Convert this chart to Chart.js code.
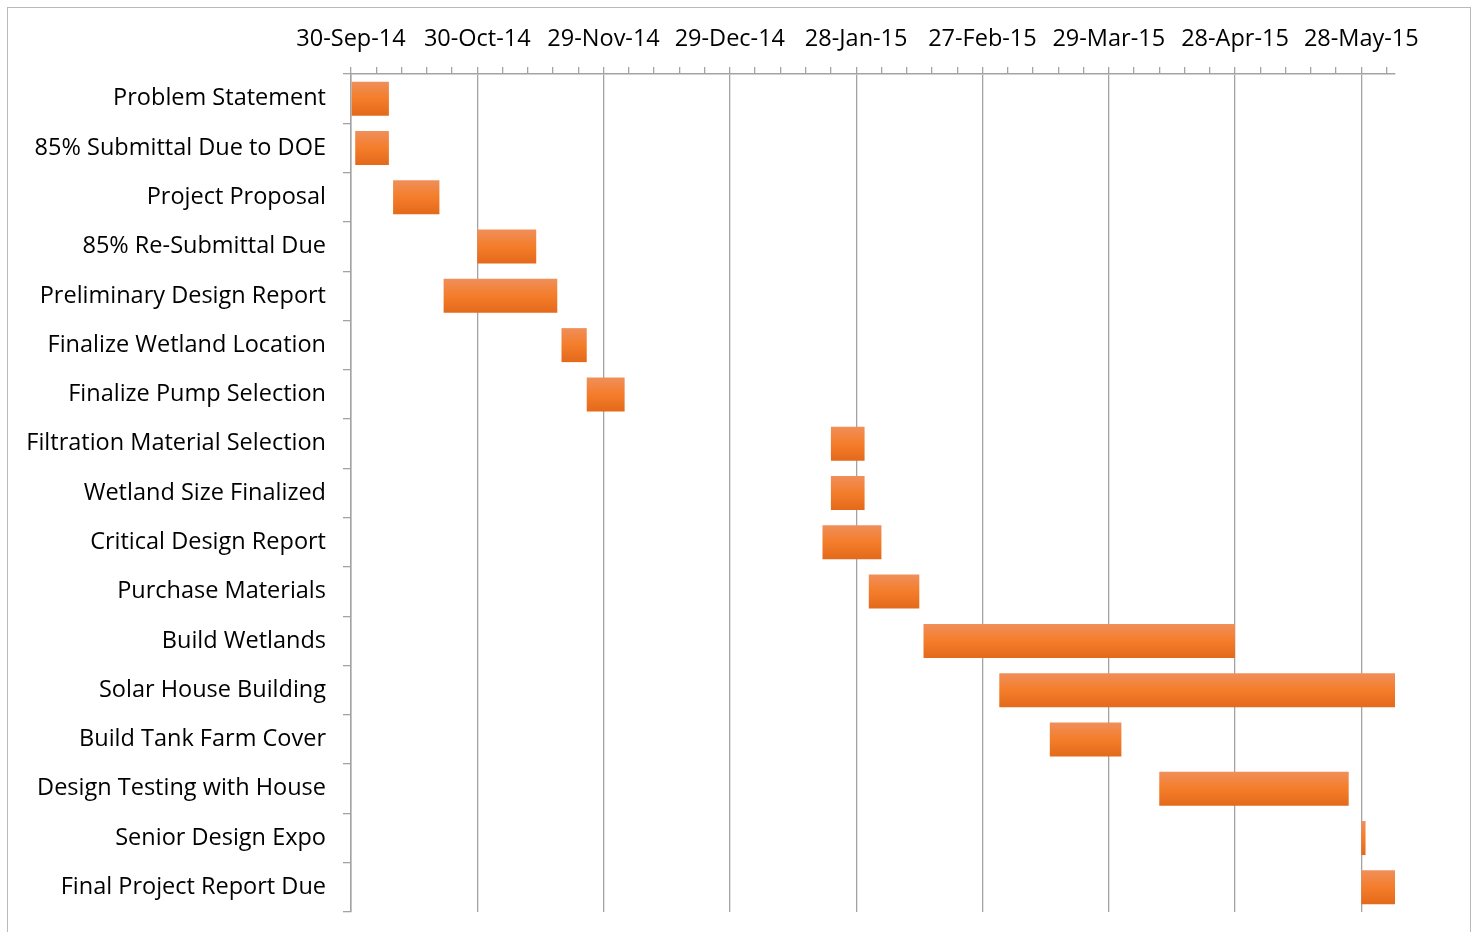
<!DOCTYPE html>
<html>
<head>
<meta charset="utf-8">
<script src="https://cdn.jsdelivr.net/npm/chart.js@4.4.0/dist/chart.umd.min.js"></script>
<style>
  html, body { margin: 0; padding: 0; background: #fff; overflow: hidden; }
  #frame { position: absolute; left: 7px; top: 7px; width: 1462px; height: 940px; border: 1px solid #b9b9b9; }
  #wrap { position: absolute; left: 0; top: 0; width: 1478px; height: 932px; }
</style>
</head>
<body>
<div id="frame"></div>
<div id="wrap"><canvas id="gantt"></canvas></div>
<script>
// axis runs from 30-Sep-14 for 248 days, labels every 30 days, minor ticks every 6
const axisStart = '2014-09-30';
const axisDays = 248;
const labelStep = 30;
const minorStep = 6;

const tasks = [
    'Problem Statement',
    '85% Submittal Due to DOE',
    'Project Proposal',
    '85% Re-Submittal Due',
    'Preliminary Design Report',
    'Finalize Wetland Location',
    'Finalize Pump Selection',
    'Filtration Material Selection',
    'Wetland Size Finalized',
    'Critical Design Report',
    'Purchase Materials',
    'Build Wetlands',
    'Solar House Building',
    'Build Tank Farm Cover',
    'Design Testing with House',
    'Senior Design Expo',
    'Final Project Report Due'
];

const startDates = [
    '2014-09-30', '2014-10-01', '2014-10-10', '2014-10-30', '2014-10-22',
    '2014-11-19', '2014-11-25', '2015-01-22', '2015-01-22', '2015-01-20',
    '2015-01-31', '2015-02-13', '2015-03-03', '2015-03-15', '2015-04-10',
    '2015-05-28', '2015-05-28'
];

const durations = [9, 8, 11, 14, 27, 6, 9, 8, 8, 14, 12, 74, 94, 17, 45, 1, 8];

const months = ['Jan','Feb','Mar','Apr','May','Jun','Jul','Aug','Sep','Oct','Nov','Dec'];
const DAY = 86400000;

function toUTC(iso) {
    const p = iso.split('-');
    return Date.UTC(+p[0], +p[1] - 1, +p[2]);
}

function dayOffset(iso) {
    return Math.round((toUTC(iso) - toUTC(axisStart)) / DAY);
}

function dateLabel(offset) {
    const d = new Date(toUTC(axisStart) + offset * DAY);
    return d.getUTCDate() + '-' + months[d.getUTCMonth()] + '-' + String(d.getUTCFullYear()).slice(2);
}

const bars = startDates.map((s, i) => {
    const a = dayOffset(s);
    return [a, a + durations[i]];
});

const barFrac = 0.69;
const gridGrey = '#a3a3a3';

function barFill(ctx) {
    const chart = ctx.chart;
    const ys = chart.scales.y;
    if (!chart.chartArea || !ys || ctx.type !== 'data') return '#f47d2b';
    const c = ys.getPixelForValue(ctx.dataIndex);
    const half = Math.abs(ys.getPixelForValue(1) - ys.getPixelForValue(0)) * barFrac / 2;
    const g = chart.ctx.createLinearGradient(0, c - half, 0, c + half);
    g.addColorStop(0, '#f08f5a');
    g.addColorStop(0.5, '#f47d2a');
    g.addColorStop(1, '#e4691b');
    return g;
}

const fontFamily = '"Open Sans", sans-serif';

new Chart(document.getElementById('gantt'), {
    type: 'bar',
    data: {
        labels: tasks,
        datasets: [{
            data: bars,
            backgroundColor: barFill,
            borderWidth: 0,
            barPercentage: barFrac,
            categoryPercentage: 1
        }]
    },
    options: {
        indexAxis: 'y',
        responsive: true,
        maintainAspectRatio: false,
        animation: false,
        layout: { padding: { left: 0, top: 0, right: 83, bottom: 20 } },
        plugins: {
            legend: { display: false },
            tooltip: { enabled: false }
        },
        scales: {
            x: {
                type: 'linear',
                position: 'top',
                min: 0,
                max: axisDays,
                afterFit: function(scale) { scale.height = 74; },
                border: { display: true, color: gridGrey, width: 1.5 },
                grid: {
                    color: c => (c.tick && c.tick.value % labelStep === 0) ? gridGrey : 'rgba(0,0,0,0)',
                    tickColor: gridGrey,
                    lineWidth: 1.3,
                    tickWidth: 1.3,
                    tickLength: 7
                },
                ticks: {
                    stepSize: minorStep,
                    includeBounds: false,
                    autoSkip: false,
                    maxRotation: 0,
                    padding: 14,
                    color: '#000',
                    font: { family: fontFamily, size: 23.5 },
                    callback: v => (v % labelStep === 0) ? dateLabel(v) : ''
                }
            },
            y: {
                afterFit: function(scale) {
                    scale.width = 351;
                    scale.paddingTop = 0;
                    scale.paddingBottom = 0;
                },
                border: { display: true, color: gridGrey, width: 1.5 },
                grid: {
                    drawOnChartArea: false,
                    offset: true,
                    color: gridGrey,
                    tickLength: 8,
                    lineWidth: 1.3
                },
                ticks: {
                    padding: 17,
                    color: '#000',
                    font: { family: fontFamily, size: 23.5 }
                }
            }
        }
    }
});
</script>
</body>
</html>
